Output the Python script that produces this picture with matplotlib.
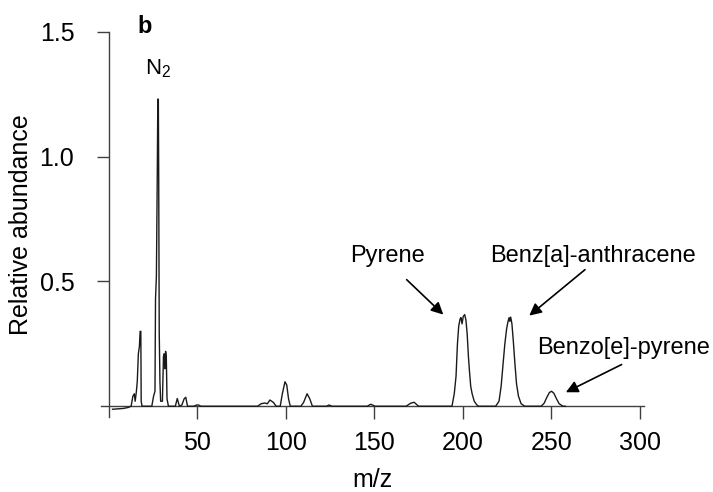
import matplotlib
import matplotlib.pyplot as plt

matplotlib.use("Agg")

plt.rcParams["font.family"] = ["Liberation Sans", "DejaVu Sans"]
plt.rcParams["mathtext.fontset"] = "custom"
plt.rcParams["mathtext.rm"] = "Liberation Sans"
plt.rcParams["mathtext.default"] = "regular"

# spectrum trace (m/z, relative abundance)
mz = [
    2, 4, 8, 10.8, 12.5, 13.5, 14.3, 14.8, 15.5, 16.0, 16.6, 17.2, 17.6, 18.0, 18.2, 18.7,
    24.2, 25.2, 26.0, 26.3, 26.8, 27.3, 27.6, 27.9, 28.1, 28.4, 28.8, 29.2, 30.2, 30.8,
    31.2, 31.6, 32.0, 32.4, 32.8, 33.6,
    37.5, 38.6, 39.8, 41.2, 42.5, 43.4, 44.4, 48, 49.5, 50.5, 52,
    84, 86, 88, 89.5, 91, 93, 94.5, 96.8, 98, 99.5, 100.5, 101.5, 102.5,
    108.5, 110, 112, 113.5, 115, 123, 124.4, 126, 146, 148, 150.5,
    168, 170.5, 172.5, 175, 193.9,
    195.2, 196.2, 197.0, 197.7, 198.5, 199.0, 199.6, 200.3, 201.1, 201.8, 202.5, 203.2,
    203.8, 204.5, 205.3, 206.5, 208, 209,
    218.6, 220.5, 221.7, 222.8, 223.8, 224.8, 225.6, 226.2, 226.6, 227.1, 227.8, 228.6,
    229.5, 230.4, 231.5, 233, 235,
    244.3, 246, 247.5, 249, 250.2, 251.5, 253, 254.5, 256.7, 258,
]
abundance = [
    -0.012, -0.011, -0.009, -0.005, 0.0, 0.04, 0.05, 0.02, 0.06, 0.1, 0.21, 0.24, 0.30, 0.30, 0.02, 0.0,
    0.0, 0.04, 0.06, 0.43, 0.52, 0.93, 1.23, 1.23, 0.93, 0.3, 0.1, 0.02, 0.02, 0.2,
    0.21, 0.15, 0.22, 0.2, 0.03, 0.0,
    0.0, 0.031, 0.0, 0.005, 0.03, 0.036, 0.0, 0.0, 0.005, 0.005, 0.0,
    0.0, 0.01, 0.013, 0.01, 0.025, 0.015, 0.0, 0.0, 0.05, 0.098, 0.085, 0.03, 0.0,
    0.0, 0.015, 0.05, 0.03, 0.0, 0.0, 0.005, 0.0, 0.0, 0.008, 0.0,
    0.0, 0.012, 0.016, 0.0, 0.0,
    0.05, 0.12, 0.25, 0.32, 0.35, 0.355, 0.33, 0.36, 0.367, 0.345, 0.29, 0.2,
    0.14, 0.08, 0.05, 0.02, 0.005, 0.0,
    0.0, 0.02, 0.08, 0.17, 0.25, 0.31, 0.34, 0.355, 0.34, 0.357, 0.33, 0.26,
    0.17, 0.09, 0.04, 0.01, 0.0,
    0.0, 0.012, 0.035, 0.055, 0.06, 0.052, 0.03, 0.01, 0.0, 0.0,
]

x_ticks = [50, 100, 150, 200, 250, 300]
y_ticks = [0.5, 1.0, 1.5]
y_tick_labels = ["0.5", "1.0", "1.5"]

fig = plt.figure(figsize=(7.13, 4.92), dpi=100)
ax = fig.add_axes([0.1417, 0.1530, 0.7616, 0.7825])

ax.plot(mz, abundance, color="#1a1a1a", lw=1.0, zorder=3)

ax.set_xlim(-4.5, 302.5)
ax.set_ylim(-0.042, 1.5)

for side in ["top", "right"]:
    ax.spines[side].set_visible(False)
ax.spines["left"].set_position(("data", 0))
ax.spines["bottom"].set_position(("data", 0))
for side in ["left", "bottom"]:
    ax.spines[side].set_color("#404040")
    ax.spines[side].set_linewidth(1.0)

ax.set_xticks(x_ticks)
ax.set_yticks(y_ticks)
ax.set_yticklabels(y_tick_labels)
ax.tick_params(axis="x", direction="out", length=9, width=1.0, color="#404040",
               labelsize=18, pad=9)
ax.tick_params(axis="y", direction="out", length=9, width=1.0, color="#404040",
               labelsize=18, pad=16)

ax.set_xlabel("m/z", fontsize=18, labelpad=9)
ax.set_ylabel("Relative abundance", fontsize=18, labelpad=5)

# panel letter and peak labels
ax.text(20.3, 1.52, "b", fontsize=17, fontweight="bold", ha="center", va="center")
ax.text(27.7, 1.331, "N$_2$", fontsize=16, ha="center", va="baseline")
ax.text(157.5, 0.579, "Pyrene", fontsize=17, ha="center", va="baseline")
ax.text(273.6, 0.579, "Benz[a]-anthracene", fontsize=17, ha="center", va="baseline")
ax.text(291.0, 0.211, "Benzo[e]-pyrene", fontsize=17, ha="center", va="baseline")

arrow = dict(arrowstyle="-|>", color="black", lw=1.2, mutation_scale=18,
             shrinkA=0, shrinkB=0)
ax.annotate("", xy=(189.0, 0.367), xytext=(168.3, 0.507), arrowprops=arrow)
ax.annotate("", xy=(237.6, 0.363), xytext=(269.1, 0.547), arrowprops=arrow)
ax.annotate("", xy=(258.3, 0.056), xytext=(289.8, 0.167), arrowprops=arrow)

fig.savefig("out.png", dpi=100)
